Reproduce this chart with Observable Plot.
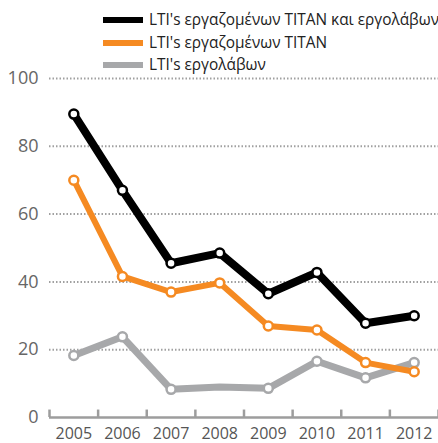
<!DOCTYPE html>
<html>
<head>
<meta charset="utf-8">
<script src="https://cdn.jsdelivr.net/npm/d3@7"></script>
<script src="https://cdn.jsdelivr.net/npm/@observablehq/plot@0.6"></script>
<style>
  html, body { margin: 0; padding: 0; background: #fff; }
  body { width: 438px; height: 443px; overflow: hidden; font-family: "Open Sans", sans-serif; }
  #legend { height: 68px; position: relative; }
  .row { position: absolute; left: 103px; display: flex; align-items: center; font-size: 15.4px; color: #222; white-space: nowrap; }
  .sw { width: 40px; height: 6px; margin-right: 6px; }
</style>
</head>
<body>
<div id="legend"></div>
<div id="chart"></div>
<script>
const years = [2005, 2006, 2007, 2008, 2009, 2010, 2011, 2012];
const seriesNames = ["LTI's εργαζομένων TITAN και εργολάβων", "LTI's εργαζομένων TITAN", "LTI's εργολάβων"];
const seriesColors = ["#000000", "#f58a22", "#a7a8aa"];
const totalValues = [89.5, 67, 45.5, 48.5, 36.5, 42.8, 27.8, 30];
const titanValues = [70, 41.6, 37, 39.7, 27, 25.8, 16.2, 13.5];
const contractorValues = [18.3, 23.8, 8.3, 9, 8.6, 16.6, 11.7, 16.2];
const contractorMarkerSkip = [2008];
const yTicks = [0, 20, 40, 60, 80, 100];
const gridTicks = [20, 40, 60, 80, 100];
const bandEdges = [2004.5, 2005.5, 2006.5, 2007.5, 2008.5, 2009.5, 2010.5, 2011.5, 2012.5];

const valuesBySeries = [totalValues, titanValues, contractorValues];
const rows = [];
valuesBySeries.forEach((vals, si) => years.forEach((yr, i) => rows.push({series: seriesNames[si], idx: si, year: yr, value: vals[i]})));
const byName = n => rows.filter(r => r.series === n);

// legend
const legend = document.getElementById("legend");
const legendTops = [9, 32, 54];
seriesNames.forEach((n, i) => {
  const row = document.createElement("div");
  row.className = "row";
  row.style.top = legendTops[i] + "px";
  row.innerHTML = `<div class="sw" style="background:${seriesColors[i]}"></div><span>${n}</span>`;
  legend.appendChild(row);
});

const widths = [8, 6, 7];
const drawOrder = [2, 1, 0];
const marks = [
  Plot.ruleY(gridTicks, {stroke: "#a0a0a0", strokeWidth: 2, strokeDasharray: "1.5 2"}),
  Plot.ruleY([0], {stroke: "#9d9d9d", strokeWidth: 2.5}),
  Plot.ruleX(bandEdges, {y1: 0, y2: 2.2, stroke: "#9d9d9d", strokeWidth: 2.5}),
  Plot.axisY(yTicks, {tickSize: 0, tickPadding: 11, fontSize: 18, fill: "#666", label: null}),
  Plot.axisX(years, {tickSize: 0, tickPadding: 10, fontSize: 16, tickFormat: d => String(d), fill: "#555", label: null})
];
drawOrder.forEach(si => {
  const data = byName(seriesNames[si]);
  marks.push(Plot.line(data, {x: "year", y: "value", stroke: seriesColors[si], strokeWidth: widths[si], strokeLinejoin: "round", strokeLinecap: "round"}));
  const dots = si === 2 ? data.filter(d => !contractorMarkerSkip.includes(d.year)) : data;
  marks.push(Plot.dot(dots, {x: "year", y: "value", r: 4.5, fill: "white", stroke: seriesColors[si], strokeWidth: 2.5}));
});

const chart = Plot.plot({
  width: 438,
  height: 375,
  marginLeft: 49,
  marginRight: 0,
  marginTop: 10,
  marginBottom: 26,
  style: {fontFamily: "Open Sans, sans-serif", background: "white", overflow: "visible"},
  x: {domain: [2004.5, 2012.5], axis: null},
  y: {domain: [0, 100], axis: null},
  marks
});
document.getElementById("chart").appendChild(chart);
</script>
</body>
</html>
